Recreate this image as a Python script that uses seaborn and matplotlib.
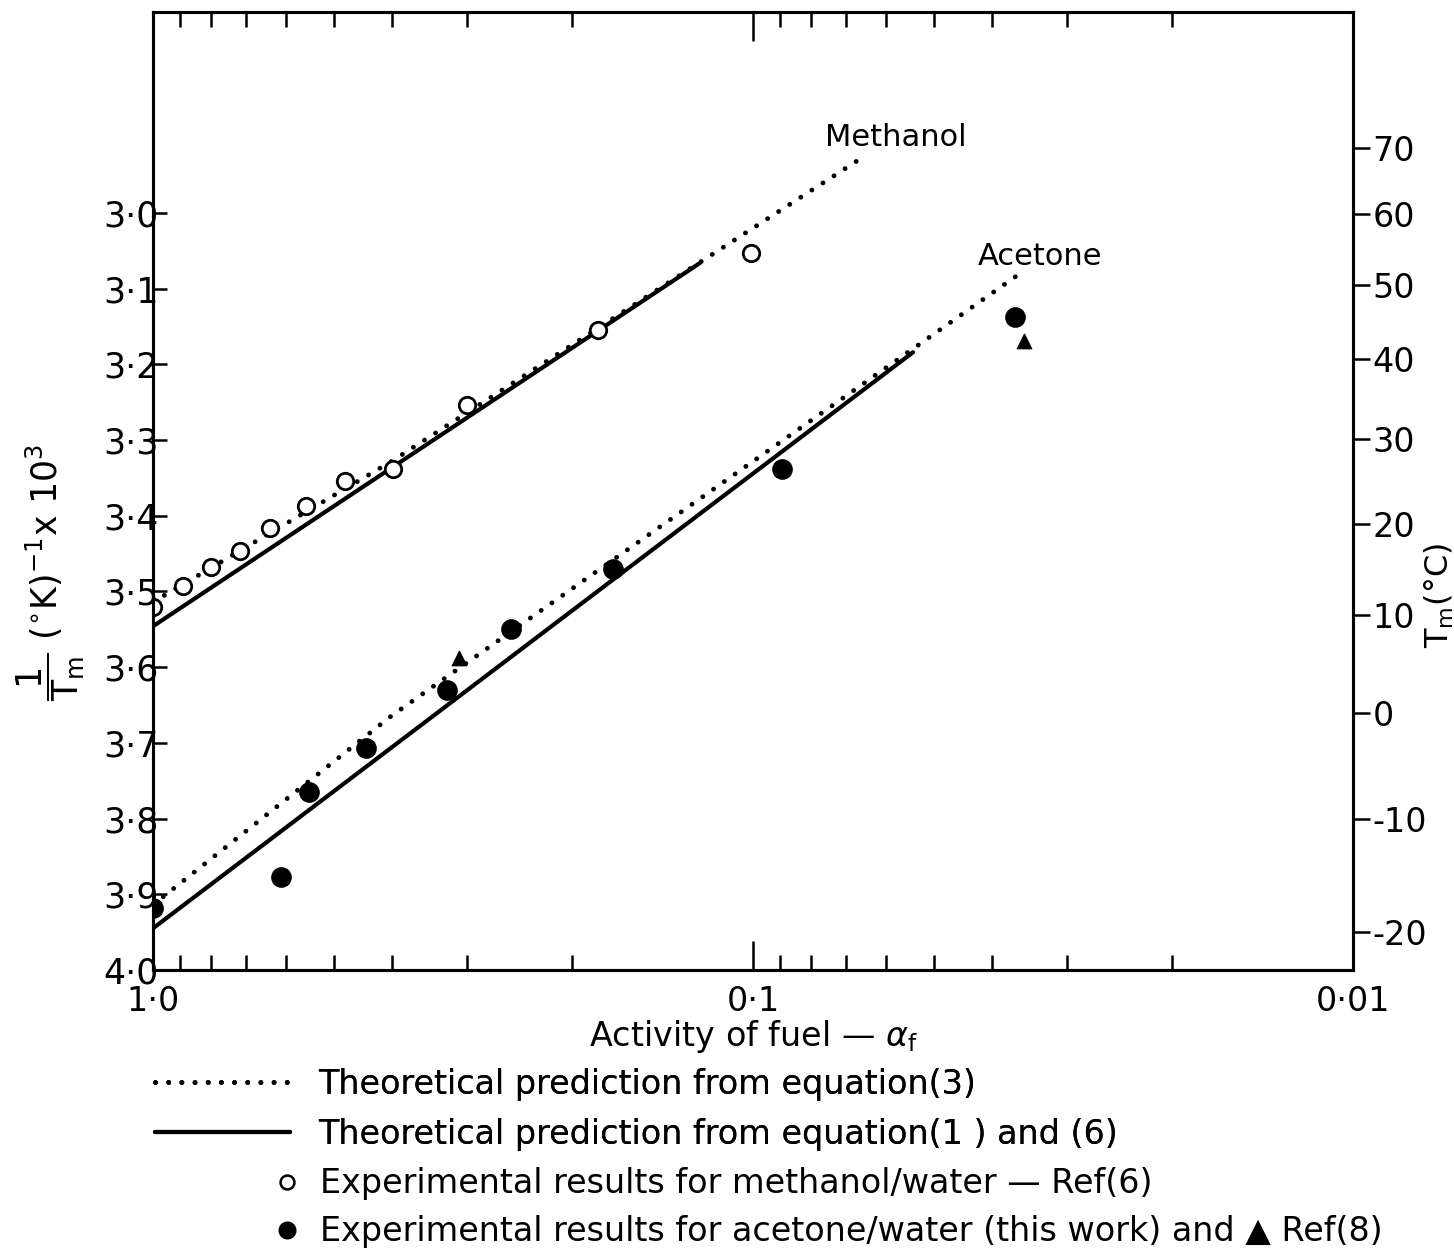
import matplotlib
matplotlib.use("Agg")
import matplotlib.pyplot as plt
from matplotlib.lines import Line2D
from matplotlib.ticker import FixedLocator, NullFormatter, LogLocator
import seaborn as sns

sns.set_theme(style="ticks")
plt.rcParams["font.family"] = ["DejaVu Sans"]
plt.rcParams["mathtext.fontset"] = "dejavusans"
plt.rcParams["text.color"] = "black"
plt.rcParams["axes.labelcolor"] = "black"
plt.rcParams["xtick.color"] = "black"
plt.rcParams["ytick.color"] = "black"
plt.rcParams["axes.edgecolor"] = "black"

# --- data ---
# methanol / water experimental points (open circles)
meth_act = [1.0, 0.891, 0.80, 0.716, 0.638, 0.556, 0.479, 0.398, 0.300, 0.181, 0.1007]
meth_inv_t = [3.520, 3.493, 3.468, 3.447, 3.416, 3.387, 3.354, 3.338, 3.254, 3.155, 3.053]

# acetone / water, this work (filled circles)
acet_act = [1.0, 0.612, 0.55, 0.442, 0.324, 0.253, 0.171, 0.0895, 0.0366]
acet_inv_t = [3.918, 3.877, 3.765, 3.707, 3.630, 3.550, 3.470, 3.338, 3.137]

# acetone Ref(8) (triangles)
ref8_act = [0.309, 0.0353]
ref8_inv_t = [3.588, 3.169]

# theoretical lines
meth_eq3_act = [1.0, 0.40, 0.0658]
meth_eq3_inv_t = [3.514, 3.328, 2.927]
meth_eq16_act = [1.0, 0.1225]
meth_eq16_inv_t = [3.546, 3.066]
acet_eq3_act = [1.0, 0.40, 0.0362]
acet_eq3_inv_t = [3.914, 3.664, 3.082]
acet_eq16_act = [1.0, 0.0541]
acet_eq16_inv_t = [3.945, 3.184]

y_ticks = [3.0, 3.1, 3.2, 3.3, 3.4, 3.5, 3.6, 3.7, 3.8, 3.9, 4.0]
y_labels = ["3·0", "3·1", "3·2", "3·3", "3·4", "3·5", "3·6", "3·7", "3·8", "3·9", "4·0"]
x_ticks = [1.0, 0.1, 0.01]
x_labels = ["1·0", "0·1", "0·01"]
temps_c = [70, 60, 50, 40, 30, 20, 10, 0, -10, -20]

fig = plt.figure(figsize=(14.54, 12.49), dpi=100)
ax = fig.add_axes([0.1052, 0.2234, 0.8253, 0.7670])
ax.set_xscale("log")

dotted = dict(color="black", lw=3.5, linestyle=(0, (0.01, 2.7)), dash_capstyle="round")
solid = dict(color="black", lw=3)

sns.lineplot(x=meth_eq3_act, y=meth_eq3_inv_t, ax=ax, sort=False, **dotted)
sns.lineplot(x=acet_eq3_act, y=acet_eq3_inv_t, ax=ax, sort=False, **dotted)
sns.lineplot(x=meth_eq16_act, y=meth_eq16_inv_t, ax=ax, sort=False, **solid)
sns.lineplot(x=acet_eq16_act, y=acet_eq16_inv_t, ax=ax, sort=False, **solid)

sns.scatterplot(x=meth_act, y=meth_inv_t, ax=ax, marker="o", s=140,
                facecolor="white", edgecolor="black", linewidth=2, zorder=5)
sns.scatterplot(x=acet_act, y=acet_inv_t, ax=ax, marker="o", s=190,
                color="black", edgecolor="black", zorder=5)
sns.scatterplot(x=ref8_act, y=ref8_inv_t, ax=ax, marker="^", s=110,
                color="black", edgecolor="black", zorder=5)

ax.text(0.0759, 2.900, "Methanol", fontsize=22, va="center", ha="left")
ax.text(0.0422, 3.057, "Acetone", fontsize=22, va="center", ha="left")

ax.set_xlim(1.0, 0.01)
ax.set_ylim(4.0, 2.7345)

for s in ax.spines.values():
    s.set_linewidth(2.2)
    s.set_color("black")

ax.xaxis.set_major_locator(FixedLocator(x_ticks))
ax.set_xticklabels(x_labels)
ax.xaxis.set_minor_locator(LogLocator(base=10, subs=range(2, 10)))
ax.xaxis.set_minor_formatter(NullFormatter())
ax.tick_params(axis="x", which="major", direction="in", top=True, length=21,
               width=1.8, labelsize=24, pad=11)
ax.tick_params(axis="x", which="minor", direction="in", top=True, length=11,
               width=1.8)

ax.set_yticks(y_ticks)
ax.set_yticklabels(y_labels)
ax.tick_params(axis="y", which="major", direction="in", right=True, length=10,
               width=1.8, labelsize=25, pad=-4)
ax.tick_params(axis="y", which="minor", left=False, right=False)

ax.set_xlabel(r"Activity of fuel — $\alpha_{\mathrm{f}}$", fontsize=24, labelpad=0)
ax.set_ylabel(r"$\dfrac{1}{\mathrm{T_m}}$ $(^{\circ}\mathrm{K})^{-1}$x $10^{3}$", fontsize=25)
ax.yaxis.set_label_coords(-0.055, 0.415)

ax2 = ax.twinx()
ax2.set_ylim(ax.get_ylim())
ax2.set_yticks([1000.0 / (t + 273.15) for t in temps_c])
ax2.set_yticklabels([str(t) for t in temps_c])
ax2.tick_params(axis="y", direction="out", length=12, width=1.8, labelsize=24, pad=2)
ax2.yaxis.set_minor_locator(FixedLocator([]))
for s in ax2.spines.values():
    s.set_linewidth(2.2)
ax2.set_ylabel(r"$\mathrm{T_m}$(°C)", fontsize=23, rotation=90)
ax2.yaxis.set_label_coords(1.058, 0.391)

# legend
line_handles = [
    Line2D([], [], **dotted),
    Line2D([], [], **solid),
]
leg1 = ax.legend(line_handles,
                 ["Theoretical prediction from equation(3)",
                  "Theoretical prediction from equation(1 ) and (6)"],
                 loc="upper left", bbox_to_anchor=(0.1066, 0.1450),
                 bbox_transform=fig.transFigure, frameon=False, fontsize=24,
                 handlelength=4.05, handletextpad=0.84, labelspacing=0.5,
                 borderpad=0, borderaxespad=0)
ax.add_artist(leg1)
marker_handles = [
    Line2D([], [], lw=0, marker="o", markersize=10, markerfacecolor="white",
           markeredgecolor="black", markeredgewidth=1.8),
    Line2D([], [], lw=0, marker="o", markersize=12, color="black"),
]
ax2.legend(marker_handles,
           ["Experimental results for methanol/water — Ref(6)",
            "Experimental results for acetone/water (this work) and ▲ Ref(8)"],
           loc="upper left", bbox_to_anchor=(0.1870, 0.0655),
           bbox_transform=fig.transFigure, frameon=False, fontsize=24,
           handlelength=0.9, handletextpad=0.55, labelspacing=0.45,
           borderpad=0, borderaxespad=0)

fig.savefig("out.png", dpi=100)
